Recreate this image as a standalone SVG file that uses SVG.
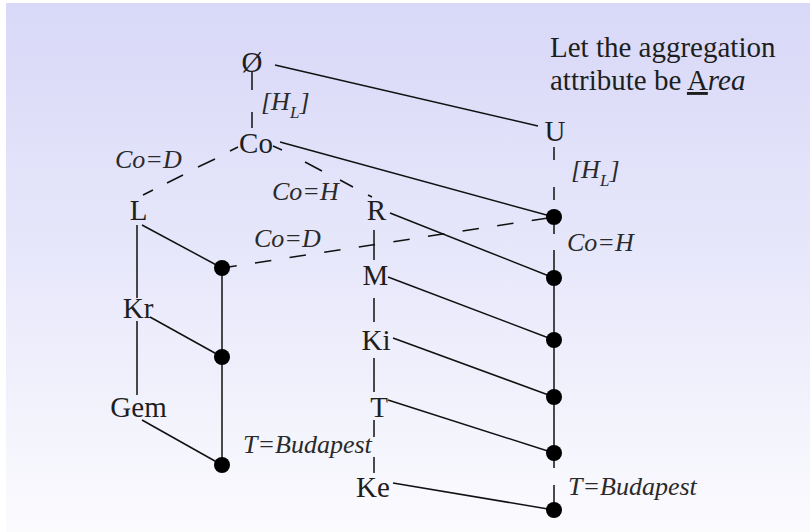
<svg xmlns="http://www.w3.org/2000/svg" width="810" height="532" viewBox="0 0 810 532">
  <defs>
    <linearGradient id="bg" x1="0" y1="0" x2="0" y2="1">
      <stop offset="0" stop-color="#d8d8f8"/>
      <stop offset="0.5" stop-color="#e8e8fb"/>
      <stop offset="1" stop-color="#fbfbfe"/>
    </linearGradient>
    <style>
      .n { font-family: "Liberation Serif", "Times New Roman", serif; font-size: 29px; fill: #1e1e1e; text-anchor: middle; }
      .lbl { font-family: "Liberation Serif", "Times New Roman", serif; font-size: 26px; font-style: italic; fill: #2a2a2a; }
      .note { font-family: "Liberation Serif", "Times New Roman", serif; font-size: 29px; fill: #1e1e1e; }
      .ln { stroke: #111; stroke-width: 1.5; fill: none; }
      .dash { stroke: #111; stroke-width: 1.5; fill: none; }
      .dot { fill: #000; }
    </style>
  </defs>
  <rect x="0" y="0" width="810" height="532" fill="#ffffff"/>
  <rect x="6" y="3" width="804" height="529" fill="url(#bg)"/>

  <g id="connectors">
    <!-- solid edges -->
    <line class="ln" x1="275" y1="65" x2="538" y2="126"/>
    <line class="ln" x1="280" y1="142" x2="554" y2="217"/>
    <line class="ln" x1="390" y1="213" x2="554" y2="278"/>
    <line class="ln" x1="388" y1="277" x2="554" y2="340"/>
    <line class="ln" x1="393" y1="338" x2="554" y2="397"/>
    <line class="ln" x1="388" y1="400" x2="554" y2="453"/>
    <line class="ln" x1="393" y1="483" x2="554" y2="510"/>
    <line class="ln" x1="142" y1="225" x2="222" y2="268"/>
    <line class="ln" x1="150" y1="317" x2="222" y2="357"/>
    <line class="ln" x1="142" y1="420" x2="222" y2="465"/>
    <!-- verticals -->
    <path class="ln" d="M137 225 V298 M137 321 V395"/>
    <path class="ln" d="M222 268 V465"/>
    <path class="ln" d="M554 278 V453"/>
    <path class="ln" d="M374 230 V260 M374 298 V322 M374 358 V392"/>
    <!-- dashed edges -->
    <path class="dash" d="M252 72 V90 M252 112 V128"/>
    <path class="dash" d="M554 147 V160 M554 187 V200"/>
    <path class="dash" d="M554 225 V234 M554 250 V272"/>
    <path class="dash" d="M554 460 V468 M554 485 V510"/>
    <path class="dash" d="M374 420 V437 M374 457 V473"/>
    <path class="dash" d="M238 147 L230 151 M215 159 L198 167 M183 175 L167 183 M153 190 L143 195"/>
    <path class="dash" d="M273 146 L282 150 M305 162 L322 171 M340 180 L353 187 M368 195 L372 197"/>
    <line class="dash" x1="220.4" y1="268.2" x2="554" y2="217" stroke-dasharray="16.5 18.5"/>
  </g>

  <g id="node-empty"><text class="n" x="252" y="72">Ø</text></g>
  <g id="node-Co"><text class="n" x="256" y="153">Co</text></g>
  <g id="node-L"><text class="n" x="138.5" y="220">L</text></g>
  <g id="node-Kr"><text class="n" x="138" y="318">Kr</text></g>
  <g id="node-Gem"><text class="n" x="138.5" y="417">Gem</text></g>
  <g id="node-R"><text class="n" x="376.5" y="220">R</text></g>
  <g id="node-M"><text class="n" x="375.5" y="285">M</text></g>
  <g id="node-Ki"><text class="n" x="376" y="350">Ki</text></g>
  <g id="node-T"><text class="n" x="379" y="417">T</text></g>
  <g id="node-Ke"><text class="n" x="373" y="497">Ke</text></g>
  <g id="node-U"><text class="n" x="555" y="141">U</text></g>

  <g id="dot-l1"><circle class="dot" cx="222" cy="268" r="8"/></g>
  <g id="dot-l2"><circle class="dot" cx="222" cy="357" r="8"/></g>
  <g id="dot-l3"><circle class="dot" cx="222" cy="465" r="8"/></g>
  <g id="dot-r1"><circle class="dot" cx="554" cy="217" r="8"/></g>
  <g id="dot-r2"><circle class="dot" cx="554" cy="278" r="8"/></g>
  <g id="dot-r3"><circle class="dot" cx="554" cy="340" r="8"/></g>
  <g id="dot-r4"><circle class="dot" cx="554" cy="397" r="8"/></g>
  <g id="dot-r5"><circle class="dot" cx="554" cy="453" r="8"/></g>
  <g id="dot-r6"><circle class="dot" cx="554" cy="510" r="8"/></g>

  <g id="edge-labels">
    <text class="lbl" x="261" y="110">[H<tspan font-size="17" dy="8">L</tspan><tspan dy="-8">]</tspan></text>
    <text class="lbl" x="571" y="178">[H<tspan font-size="17" dy="8">L</tspan><tspan dy="-8">]</tspan></text>
    <text class="lbl" x="115" y="168">Co=D</text>
    <text class="lbl" x="272" y="200">Co=H</text>
    <text class="lbl" x="254" y="247">Co=D</text>
    <text class="lbl" x="567" y="251">Co=H</text>
    <text class="lbl" x="243" y="453">T=Budapest</text>
    <text class="lbl" x="568" y="495">T=Budapest</text>
  </g>

  <g id="note">
    <text class="note" x="550" y="57">Let the aggregation</text>
    <text class="note" x="550" y="90">attribute be <tspan text-decoration="underline">A</tspan><tspan font-style="italic">rea</tspan></text>
  </g>
</svg>
